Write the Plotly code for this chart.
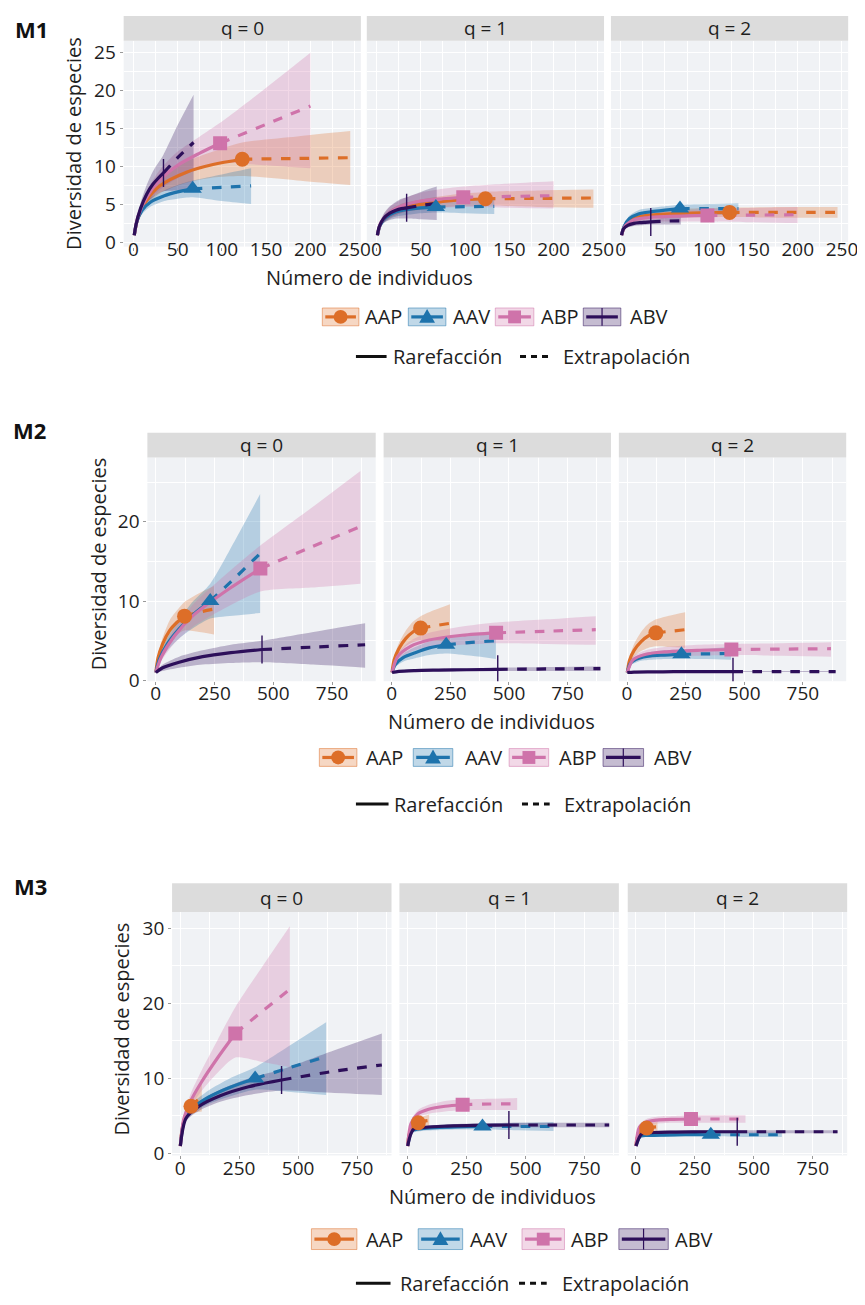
import plotly.graph_objects as go

W, H = 865, 1305
SITES = ["AAP", "AAV", "ABP", "ABV"]
BLOCKS = ["M1", "M2", "M3"]
Q_LABELS = ["q = 0", "q = 1", "q = 2"]
Y_TITLE = "Diversidad de especies"
X_TITLE = "Número de individuos"
LINE_LABELS = ["Rarefacción", "Extrapolación"]

# ---------------- observed sample size (marker position) per site ----------------
M1_n = [123, 67, 98, 34]
M2_n = [123, 232, 445, 452]
M3_n = [46, 318, 234, 430]

# ---------------- tick values ----------------
M1_xticks = [0, 50, 100, 150, 200, 250]
M1_xminor = [25, 75, 125, 175, 225]
M1_yticks = [0, 5, 10, 15, 20, 25]
M1_yminor = [2.5, 7.5, 12.5, 17.5, 22.5]
M2_xticks = [0, 250, 500, 750]
M2_xminor = [125, 375, 625, 875]
M2_yticks = [0, 10, 20]
M2_yminor = [5, 15, 25]
M3_xticks = [0, 250, 500, 750]
M3_xminor = [125, 375, 625, 875]
M3_yticks = [0, 10, 20, 30]
M3_yminor = [5, 15, 25]

# ================= M1 =================
M1_AAP_x = [1, 5, 15, 30, 60, 90, 123, 185, 245]
M1_AAV_x = [1, 4, 10, 20, 35, 50, 67, 100, 133]
M1_ABP_x = [1, 5, 15, 30, 50, 75, 98, 150, 200]
M1_ABV_x = [1, 3, 8, 15, 22, 28, 34, 50, 68]
# q = 0
M1_AAP_q0 = [1, 3.2, 5.6, 7.5, 9.3, 10.3, 11.0, 11.1, 11.2]
M1_AAP_q0_lo = [1, 2.8, 4.9, 6.5, 7.9, 8.6, 8.8, 8.2, 7.6]
M1_AAP_q0_hi = [1, 3.6, 6.3, 8.5, 10.7, 12.0, 13.2, 14.0, 14.7]
M1_AAV_q0 = [1, 2.8, 4.3, 5.4, 6.2, 6.7, 7.1, 7.3, 7.5]
M1_AAV_q0_lo = [1, 2.5, 3.8, 4.8, 5.5, 5.8, 6.0, 5.5, 5.1]
M1_AAV_q0_hi = [1, 3.1, 4.8, 6.0, 6.9, 7.6, 8.2, 9.0, 9.8]
M1_ABP_q0 = [1, 3.4, 6.0, 8.3, 10.2, 11.8, 13.1, 15.6, 18.0]
M1_ABP_q0_lo = [1, 3.0, 5.2, 7.0, 8.5, 9.7, 10.5, 10.2, 9.8]
M1_ABP_q0_hi = [1, 3.8, 6.8, 9.6, 12.0, 14.0, 15.8, 20.4, 25.0]
M1_ABV_q0 = [1, 2.4, 4.5, 6.4, 7.7, 8.5, 9.2, 11.2, 13.2]
M1_ABV_q0_lo = [1, 2.1, 3.8, 5.2, 6.0, 6.5, 6.8, 6.9, 7.0]
M1_ABV_q0_hi = [1, 2.7, 5.2, 7.6, 9.4, 10.5, 11.6, 15.5, 19.5]
# q = 1
M1_AAP_q1 = [1, 2.6, 3.8, 4.6, 5.2, 5.6, 5.8, 5.85, 5.9]
M1_AAP_q1_lo = [1, 2.3, 3.3, 4.0, 4.5, 4.8, 4.9, 4.7, 4.6]
M1_AAP_q1_hi = [1, 2.9, 4.3, 5.2, 5.9, 6.4, 6.7, 6.9, 7.0]
M1_AAV_q1 = [1, 2.3, 3.3, 4.0, 4.4, 4.6, 4.7, 4.75, 4.8]
M1_AAV_q1_lo = [1, 2.0, 2.8, 3.4, 3.7, 3.9, 4.0, 3.9, 3.8]
M1_AAV_q1_hi = [1, 2.6, 3.8, 4.6, 5.1, 5.4, 5.5, 5.7, 5.8]
M1_ABP_q1 = [1, 2.7, 4.0, 4.9, 5.5, 5.8, 6.0, 6.1, 6.2]
M1_ABP_q1_lo = [1, 2.3, 3.3, 4.0, 4.4, 4.6, 4.7, 4.6, 4.5]
M1_ABP_q1_hi = [1, 3.1, 4.7, 5.8, 6.6, 7.1, 7.4, 7.8, 8.1]
M1_ABV_q1 = [1, 2.1, 3.2, 3.9, 4.3, 4.5, 4.6, 4.9, 5.2]
M1_ABV_q1_lo = [1, 1.8, 2.6, 3.0, 3.2, 3.2, 3.2, 3.1, 3.0]
M1_ABV_q1_hi = [1, 2.4, 3.8, 4.8, 5.4, 5.8, 6.0, 6.7, 7.4]
# q = 2
M1_AAP_q2 = [1, 2.3, 3.2, 3.6, 3.85, 3.95, 4.0, 4.0, 4.0]
M1_AAP_q2_lo = [1, 2.0, 2.8, 3.1, 3.3, 3.35, 3.4, 3.3, 3.3]
M1_AAP_q2_hi = [1, 2.6, 3.6, 4.1, 4.4, 4.55, 4.6, 4.7, 4.7]
M1_AAV_q2 = [1, 2.2, 3.2, 3.8, 4.1, 4.3, 4.5, 4.5, 4.5]
M1_AAV_q2_lo = [1, 1.9, 2.8, 3.3, 3.6, 3.7, 3.8, 3.7, 3.7]
M1_AAV_q2_hi = [1, 2.5, 3.6, 4.3, 4.6, 4.8, 5.0, 5.1, 5.2]
M1_ABP_q2 = [1, 2.2, 3.0, 3.3, 3.45, 3.55, 3.6, 3.65, 3.7]
M1_ABP_q2_lo = [1, 1.9, 2.5, 2.7, 2.8, 2.8, 2.8, 2.7, 2.6]
M1_ABP_q2_hi = [1, 2.5, 3.5, 3.9, 4.1, 4.3, 4.4, 4.6, 4.7]
M1_ABV_q2 = [1, 1.8, 2.3, 2.55, 2.65, 2.7, 2.75, 2.85, 2.9]
M1_ABV_q2_lo = [1, 1.6, 2.0, 2.2, 2.3, 2.35, 2.4, 2.4, 2.4]
M1_ABV_q2_hi = [1, 2.0, 2.6, 2.9, 3.0, 3.05, 3.1, 3.3, 3.4]

# ================= M2 =================
M2_AAP_x = [1, 10, 30, 60, 90, 123, 185, 248]
M2_AAV_x = [1, 15, 50, 100, 160, 232, 340, 444]
M2_ABP_x = [1, 25, 80, 160, 300, 445, 660, 870]
M2_ABV_x = [1, 30, 100, 200, 320, 452, 670, 890]
# q = 0
M2_AAP_q0 = [1, 2.8, 4.6, 6.3, 7.3, 8.1, 8.6, 9.0]
M2_AAP_q0_lo = [1, 2.4, 3.8, 5.0, 5.8, 6.3, 6.1, 5.8]
M2_AAP_q0_hi = [1, 3.2, 5.4, 7.6, 8.8, 9.9, 11.0, 11.9]
M2_AAV_q0 = [1, 2.6, 4.6, 6.5, 8.3, 10.0, 13.0, 16.0]
M2_AAV_q0_lo = [1, 2.2, 3.8, 5.3, 6.6, 7.8, 8.2, 8.5]
M2_AAV_q0_hi = [1, 3.0, 5.4, 7.7, 10.0, 12.2, 17.8, 23.5]
M2_ABP_q0 = [1, 3.0, 5.6, 8.2, 11.3, 14.1, 16.8, 19.4]
M2_ABP_q0_lo = [1, 2.5, 4.7, 6.8, 9.2, 11.2, 11.7, 12.2]
M2_ABP_q0_hi = [1, 3.5, 6.5, 9.6, 13.4, 17.0, 21.7, 26.4]
M2_ABV_q0 = [1, 1.6, 2.3, 3.0, 3.5, 3.9, 4.2, 4.5]
M2_ABV_q0_lo = [1, 1.2, 1.6, 2.0, 2.2, 2.3, 2.0, 1.6]
M2_ABV_q0_hi = [1, 2.0, 3.0, 3.8, 4.5, 5.0, 6.1, 7.2]
# q = 1
M2_AAP_q1 = [1, 2.6, 4.0, 5.3, 6.1, 6.6, 6.9, 7.2]
M2_AAP_q1_lo = [1, 2.2, 3.3, 4.3, 4.8, 5.1, 5.0, 4.9]
M2_AAP_q1_hi = [1, 3.0, 4.7, 6.3, 7.4, 8.1, 8.9, 9.6]
M2_AAV_q1 = [1, 2.0, 2.9, 3.5, 4.1, 4.5, 4.8, 5.0]
M2_AAV_q1_lo = [1, 1.7, 2.4, 2.8, 3.2, 3.4, 3.1, 2.7]
M2_AAV_q1_hi = [1, 2.3, 3.4, 4.2, 4.9, 5.4, 5.7, 6.0]
M2_ABP_q1 = [1, 3.0, 4.3, 5.1, 5.7, 6.0, 6.2, 6.4]
M2_ABP_q1_lo = [1, 2.6, 3.6, 4.2, 4.5, 4.7, 4.6, 4.5]
M2_ABP_q1_hi = [1, 3.4, 5.0, 6.0, 6.8, 7.3, 7.7, 8.1]
M2_ABV_q1 = [1, 1.15, 1.25, 1.3, 1.35, 1.4, 1.45, 1.5]
M2_ABV_q1_lo = [1, 1.05, 1.1, 1.15, 1.2, 1.2, 1.2, 1.2]
M2_ABV_q1_hi = [1, 1.25, 1.4, 1.45, 1.5, 1.6, 1.7, 1.8]
# q = 2
M2_AAP_q2 = [1, 2.5, 3.8, 4.9, 5.6, 6.0, 6.2, 6.4]
M2_AAP_q2_lo = [1, 2.1, 3.0, 3.7, 4.1, 4.3, 4.2, 4.1]
M2_AAP_q2_hi = [1, 2.9, 4.6, 6.1, 7.1, 7.7, 8.2, 8.6]
M2_AAV_q2 = [1, 2.2, 2.8, 3.1, 3.2, 3.3, 3.35, 3.4]
M2_AAV_q2_lo = [1, 1.9, 2.4, 2.6, 2.7, 2.75, 2.7, 2.6]
M2_AAV_q2_hi = [1, 2.5, 3.2, 3.6, 3.8, 3.9, 4.0, 4.2]
M2_ABP_q2 = [1, 2.6, 3.3, 3.6, 3.8, 3.9, 3.95, 4.0]
M2_ABP_q2_lo = [1, 2.2, 2.8, 3.0, 3.1, 3.2, 3.1, 3.0]
M2_ABP_q2_hi = [1, 3.0, 3.8, 4.2, 4.5, 4.6, 4.7, 4.8]
M2_ABV_q2 = [1, 1.05, 1.08, 1.1, 1.1, 1.1, 1.1, 1.1]
M2_ABV_q2_lo = [1, 1.0, 1.02, 1.03, 1.04, 1.05, 1.05, 1.05]
M2_ABV_q2_hi = [1, 1.1, 1.14, 1.16, 1.17, 1.18, 1.19, 1.2]

# ================= M3 =================
M3_AAP_x = [1, 5, 12, 22, 34, 46, 70, 92]
M3_AAV_x = [1, 20, 60, 120, 210, 318, 470, 619]
M3_ABP_x = [1, 15, 45, 90, 160, 234, 350, 465]
M3_ABV_x = [1, 25, 80, 170, 290, 430, 640, 855]
# q = 0
M3_AAP_q0 = [1, 2.4, 3.8, 5.0, 5.8, 6.3, 7.0, 7.5]
M3_AAP_q0_lo = [1, 2.1, 3.3, 4.3, 4.9, 5.3, 5.5, 5.6]
M3_AAP_q0_hi = [1, 2.7, 4.3, 5.7, 6.7, 7.3, 8.5, 9.4]
M3_AAV_q0 = [1, 4.6, 6.2, 7.5, 8.8, 10.0, 11.5, 12.9]
M3_AAV_q0_lo = [1, 4.1, 5.5, 6.6, 7.6, 8.5, 8.2, 7.8]
M3_AAV_q0_hi = [1, 5.1, 6.9, 8.4, 10.0, 11.5, 14.5, 17.5]
M3_ABP_q0 = [1, 4.5, 7.0, 9.5, 12.8, 16.0, 19.0, 21.9]
M3_ABP_q0_lo = [1, 4.0, 6.2, 8.3, 10.8, 12.8, 12.2, 11.5]
M3_ABP_q0_hi = [1, 5.0, 8.0, 11.0, 15.2, 19.5, 25.0, 30.3]
M3_ABV_q0 = [1, 4.7, 6.3, 7.7, 8.9, 9.8, 10.9, 11.8]
M3_ABV_q0_lo = [1, 4.3, 5.7, 6.9, 7.8, 8.4, 8.1, 7.8]
M3_ABV_q0_hi = [1, 5.1, 6.9, 8.5, 10.0, 11.2, 13.6, 16.0]
# q = 1
M3_AAP_q1 = [1, 2.2, 3.0, 3.6, 3.9, 4.1, 4.3, 4.4]
M3_AAP_q1_lo = [1, 1.9, 2.6, 3.1, 3.3, 3.5, 3.5, 3.5]
M3_AAP_q1_hi = [1, 2.5, 3.4, 4.1, 4.5, 4.7, 5.0, 5.2]
M3_AAV_q1 = [1, 3.0, 3.3, 3.45, 3.55, 3.6, 3.6, 3.6]
M3_AAV_q1_lo = [1, 2.7, 3.0, 3.1, 3.2, 3.2, 3.1, 3.0]
M3_AAV_q1_hi = [1, 3.3, 3.6, 3.8, 3.9, 4.0, 4.1, 4.2]
M3_ABP_q1 = [1, 4.0, 5.3, 5.9, 6.3, 6.5, 6.6, 6.6]
M3_ABP_q1_lo = [1, 3.6, 4.8, 5.3, 5.6, 5.8, 5.8, 5.8]
M3_ABP_q1_hi = [1, 4.4, 5.8, 6.5, 7.0, 7.2, 7.3, 7.4]
M3_ABV_q1 = [1, 3.2, 3.5, 3.65, 3.75, 3.8, 3.8, 3.8]
M3_ABV_q1_lo = [1, 3.0, 3.3, 3.4, 3.5, 3.5, 3.5, 3.5]
M3_ABV_q1_hi = [1, 3.4, 3.7, 3.9, 4.0, 4.1, 4.1, 4.1]
# q = 2
M3_AAP_q2 = [1, 2.0, 2.6, 3.0, 3.25, 3.4, 3.5, 3.55]
M3_AAP_q2_lo = [1, 1.8, 2.3, 2.6, 2.8, 2.9, 2.9, 2.9]
M3_AAP_q2_hi = [1, 2.2, 2.9, 3.4, 3.7, 3.9, 4.1, 4.2]
M3_AAV_q2 = [1, 2.3, 2.4, 2.45, 2.5, 2.5, 2.5, 2.5]
M3_AAV_q2_lo = [1, 2.1, 2.2, 2.25, 2.3, 2.3, 2.2, 2.2]
M3_AAV_q2_hi = [1, 2.5, 2.6, 2.65, 2.7, 2.7, 2.8, 2.8]
M3_ABP_q2 = [1, 3.5, 4.2, 4.45, 4.55, 4.6, 4.6, 4.6]
M3_ABP_q2_lo = [1, 3.2, 3.8, 4.0, 4.1, 4.1, 4.1, 4.1]
M3_ABP_q2_hi = [1, 3.8, 4.6, 4.9, 5.0, 5.1, 5.1, 5.1]
M3_ABV_q2 = [1, 2.6, 2.8, 2.85, 2.9, 2.9, 2.9, 2.9]
M3_ABV_q2_lo = [1, 2.4, 2.6, 2.65, 2.7, 2.7, 2.7, 2.7]
M3_ABV_q2_hi = [1, 2.8, 3.0, 3.05, 3.1, 3.1, 3.1, 3.1]

# ---------------- styles ----------------
FONT = "Open Sans"
TXT = "#1e1e1e"
COLORS = {"AAP": (221, 110, 40), "AAV": (30, 115, 172), "ABP": (207, 115, 170), "ABV": (45, 15, 90)}
SYMBOLS = {"AAP": "circle", "AAV": "triangle-up", "ABP": "square", "ABV": "line-ns"}
MSIZE = {"AAP": 15, "AAV": 16, "ABP": 14, "ABV": 20}
PANEL_BG = "#F0F2F5"
STRIP_BG = "#DCDCDC"
LW = 3.2

def rgba(c, a):
    return f"rgba({c[0]},{c[1]},{c[2]},{a})"

# layout geometry in page pixels
GEO = {
    "M1": dict(panels=[(117, 357), (363, 603), (610, 850)], plot=(32, 240), strip=(7, 32),
               xr=[-11, 257], yr=[-0.5, 26.6], ytitle=(66, 136), xtitle=(366, 271), label=(24, 20), stand=-17,
               leg=[(318, 355, 359), (405, 443, 448), (493, 532, 537), (582, 620, 627)], legy=(302, 320),
               leg2=(352, 383, 387, 518, 548, 559), leg2y=351),
    "M2": dict(panels=[(141, 372), (380, 610), (618, 848)], plot=(453, 679), strip=(428, 453),
               xr=[-35, 935], yr=[-0.1, 28.1], ytitle=(91, 560), xtitle=(489, 720), label=(22, 425), stand=-8,
               leg=[(315, 353, 360), (410, 450, 460), (507, 547, 555), (602, 643, 652)], legy=(747, 765),
               leg2=(352, 385, 388, 520, 548, 560), leg2y=803),
    "M3": dict(panels=[(166, 388), (396, 618), (627, 849)], plot=(912, 1158), strip=(883, 912),
               xr=[-34, 896], yr=[-0.26, 32.2], ytitle=(115, 1030), xtitle=(490, 1199), label=(23, 886), stand=-7,
               leg=[(307, 353, 360), (415, 460, 465), (520, 563, 568), (618, 668, 673)], legy=(1232, 1253),
               leg2=(352, 387, 395, 517, 545, 558), leg2y=1287),
}

def PX(x):
    return x / W

def PY(y):
    return 1 - y / H

G = globals()
fig = go.Figure()
shapes, annos, axes = [], [], {}
k = 0
for b in BLOCKS:
    g = GEO[b]
    n_obs = G[f"{b}_n"]
    for qi in range(3):
        k += 1
        xs_name = "x" if k == 1 else f"x{k}"
        ys_name = "y" if k == 1 else f"y{k}"
        x0p, x1p = g["panels"][qi]
        axes["xaxis" if k == 1 else f"xaxis{k}"] = dict(
            domain=[PX(x0p), PX(x1p)], range=g["xr"], anchor=ys_name,
            tickmode="array", tickvals=G[f"{b}_xticks"],
            ticks="outside", ticklen=3, tickcolor="#999", tickwidth=1,
            showgrid=True, gridcolor="white", gridwidth=1.4, zeroline=False, showline=False,
            minor=dict(tickvals=G[f"{b}_xminor"], showgrid=True, gridcolor="white", gridwidth=0.7, ticklen=0),
            tickfont=dict(family=FONT, size=19, color=TXT), ticklabelstandoff=g["stand"], fixedrange=True)
        axes["yaxis" if k == 1 else f"yaxis{k}"] = dict(
            domain=[PY(g["plot"][1]), PY(g["plot"][0])], range=g["yr"], anchor=xs_name,
            tickmode="array", tickvals=G[f"{b}_yticks"], showticklabels=(qi == 0),
            ticks="outside" if qi == 0 else "", ticklen=3, tickcolor="#999", tickwidth=1,
            showgrid=True, gridcolor="white", gridwidth=1.4, zeroline=False, showline=False,
            minor=dict(tickvals=G[f"{b}_yminor"], showgrid=True, gridcolor="white", gridwidth=0.7, ticklen=0),
            tickfont=dict(family=FONT, size=19, color=TXT), fixedrange=True)
        # facet strip
        shapes.append(dict(type="rect", xref="paper", yref="paper", x0=PX(x0p), x1=PX(x1p),
                           y0=PY(g["strip"][1]), y1=PY(g["strip"][0]), fillcolor=STRIP_BG, line_width=0))
        annos.append(dict(x=PX((x0p + x1p) / 2), y=PY((g["strip"][0] + g["strip"][1]) / 2), xref="paper", yref="paper",
                          text=Q_LABELS[qi], showarrow=False, font=dict(family=FONT, size=19, color=TXT),
                          xanchor="center", yanchor="middle"))
        # ribbons (lower bound, then upper bound filled to it)
        for s in SITES:
            xs = G[f"{b}_{s}_x"]
            lo = G[f"{b}_{s}_q{qi}_lo"]
            hi = G[f"{b}_{s}_q{qi}_hi"]
            fig.add_trace(go.Scatter(x=xs, y=lo, xaxis=xs_name, yaxis=ys_name, mode="lines",
                                     line=dict(width=0, shape="spline", smoothing=0.7), hoverinfo="skip"))
            fig.add_trace(go.Scatter(x=xs, y=hi, xaxis=xs_name, yaxis=ys_name, mode="lines", fill="tonexty",
                                     fillcolor=rgba(COLORS[s], 0.28),
                                     line=dict(width=0, shape="spline", smoothing=0.7), hoverinfo="skip"))
        # lines
        for si, s in enumerate(SITES):
            xs = G[f"{b}_{s}_x"]
            ys = G[f"{b}_{s}_q{qi}"]
            m = xs.index(n_obs[si])
            c = rgba(COLORS[s], 1)
            fig.add_trace(go.Scatter(x=xs[:m + 1], y=ys[:m + 1], xaxis=xs_name, yaxis=ys_name, mode="lines",
                                     line=dict(color=c, width=LW, shape="spline", smoothing=0.8)))
            fig.add_trace(go.Scatter(x=xs[m:], y=ys[m:], xaxis=xs_name, yaxis=ys_name, mode="lines",
                                     line=dict(color=c, width=LW, dash="dash", shape="spline", smoothing=0.8)))
        # markers
        for si, s in enumerate(SITES):
            xs = G[f"{b}_{s}_x"]
            ys = G[f"{b}_{s}_q{qi}"]
            m = xs.index(n_obs[si])
            c = rgba(COLORS[s], 1)
            fig.add_trace(go.Scatter(x=[xs[m]], y=[ys[m]], xaxis=xs_name, yaxis=ys_name, mode="markers",
                                     marker=dict(symbol=SYMBOLS[s], size=MSIZE[s], color=c,
                                                 line=dict(color=c, width=1.4 if s == "ABV" else 0))))

    # block label, axis titles
    annos.append(dict(x=PX(g["label"][0]), y=PY(g["label"][1]), xref="paper", yref="paper", text=f"<b>{b}</b>",
                      showarrow=False, font=dict(family=FONT, size=22, color="#111"), xanchor="center", yanchor="middle"))
    annos.append(dict(x=PX(g["ytitle"][0]), y=PY(g["ytitle"][1]), xref="paper", yref="paper", text=Y_TITLE,
                      textangle=-90, showarrow=False, font=dict(family=FONT, size=20, color=TXT),
                      xanchor="center", yanchor="middle"))
    annos.append(dict(x=PX(g["xtitle"][0]), y=PY(g["xtitle"][1]), xref="paper", yref="paper", text=X_TITLE,
                      showarrow=False, font=dict(family=FONT, size=20, color=TXT), xanchor="center", yanchor="middle"))
    # legend row 1 (sites)
    ly0, ly1 = g["legy"]
    lyc = (ly0 + ly1) / 2
    for si, s in enumerate(SITES):
        bx0, bx1, tx = g["leg"][si]
        c = COLORS[s]
        shapes.append(dict(type="rect", xref="paper", yref="paper", x0=PX(bx0), x1=PX(bx1), y0=PY(ly1), y1=PY(ly0),
                           fillcolor=rgba(c, 0.28), line=dict(color=rgba(c, 0.5), width=1)))
        shapes.append(dict(type="line", xref="paper", yref="paper", x0=PX(bx0 + 3), x1=PX(bx1 - 3), y0=PY(lyc), y1=PY(lyc),
                           line=dict(color=rgba(c, 1), width=LW)))
        cx = (bx0 + bx1) / 2
        if s == "AAP":
            shapes.append(dict(type="circle", xref="paper", yref="paper", x0=PX(cx - 7), x1=PX(cx + 7),
                               y0=PY(lyc + 7), y1=PY(lyc - 7), fillcolor=rgba(c, 1), line_width=0))
        elif s == "AAV":
            shapes.append(dict(type="path", xref="paper", yref="paper",
                               path=f"M {PX(cx - 8)} {PY(lyc + 6)} L {PX(cx + 8)} {PY(lyc + 6)} L {PX(cx)} {PY(lyc - 8)} Z",
                               fillcolor=rgba(c, 1), line_width=0))
        elif s == "ABP":
            shapes.append(dict(type="rect", xref="paper", yref="paper", x0=PX(cx - 6.5), x1=PX(cx + 6.5),
                               y0=PY(lyc + 6.5), y1=PY(lyc - 6.5), fillcolor=rgba(c, 1), line_width=0))
        else:
            shapes.append(dict(type="line", xref="paper", yref="paper", x0=PX(cx), x1=PX(cx), y0=PY(ly1), y1=PY(ly0),
                               line=dict(color=rgba(c, 1), width=1.2)))
        annos.append(dict(x=PX(tx), y=PY(lyc), xref="paper", yref="paper", text=s, showarrow=False,
                          font=dict(family=FONT, size=20, color=TXT), xanchor="left", yanchor="middle"))
    # legend row 2 (line types)
    l0, l1, t1, d0, d1, t2 = g["leg2"]
    yy = g["leg2y"]
    shapes.append(dict(type="line", xref="paper", yref="paper", x0=PX(l0), x1=PX(l1), y0=PY(yy), y1=PY(yy),
                       line=dict(color="#111", width=3)))
    shapes.append(dict(type="line", xref="paper", yref="paper", x0=PX(d0), x1=PX(d1), y0=PY(yy), y1=PY(yy),
                       line=dict(color="#111", width=3, dash="6px,5px")))
    annos.append(dict(x=PX(t1), y=PY(yy), xref="paper", yref="paper", text=LINE_LABELS[0], showarrow=False,
                      font=dict(family=FONT, size=20, color=TXT), xanchor="left", yanchor="middle"))
    annos.append(dict(x=PX(t2), y=PY(yy), xref="paper", yref="paper", text=LINE_LABELS[1], showarrow=False,
                      font=dict(family=FONT, size=20, color=TXT), xanchor="left", yanchor="middle"))

fig.update_layout(width=W, height=H, margin=dict(l=0, r=0, t=0, b=0), showlegend=False,
                  paper_bgcolor="white", plot_bgcolor=PANEL_BG, shapes=shapes, annotations=annos,
                  font=dict(family=FONT, color=TXT), **axes)
fig.write_html("out.html")
